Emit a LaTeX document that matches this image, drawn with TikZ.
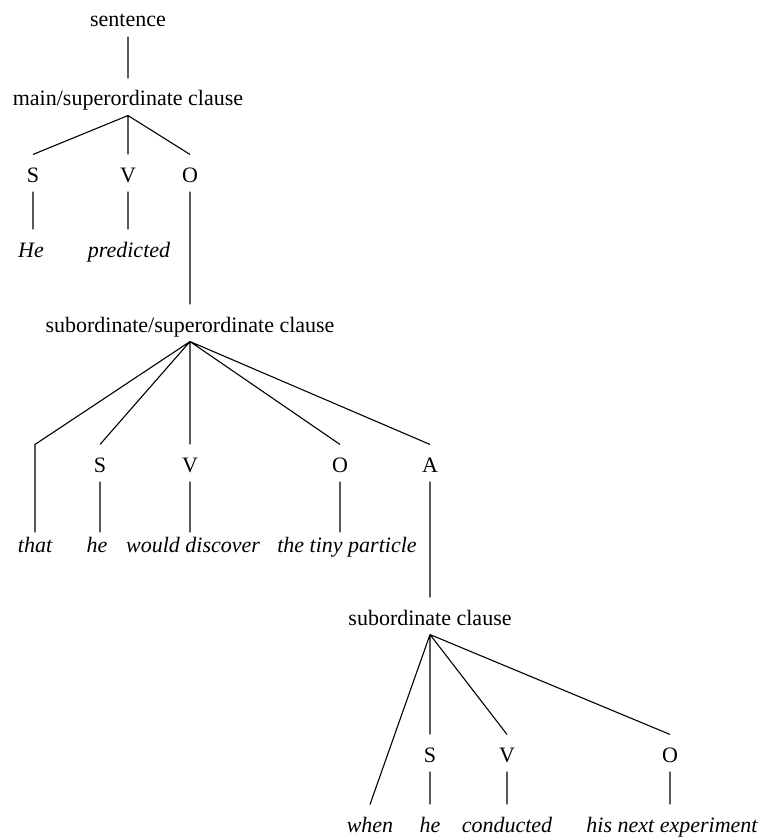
\documentclass[tikz,border=0pt]{standalone}
\usepackage{fontspec}
\setmainfont{Liberation Serif}
\def\sz{\fontsize{22}{26}\selectfont}
\tikzset{c/.style={anchor=base,inner xsep=2pt,inner ysep=4pt,text height=23pt,text depth=5pt,font=\sz},
  w/.style={c,font=\sz\itshape},
  ws/.style={w,text height=15pt}}

\begin{document}
\begin{tikzpicture}[x=1pt,y=-1pt,line width=1.1pt]
		\useasboundingbox (0,0) rectangle (763,840);
		
		% main clause
		\node[c] (sen)  at (128,27)  {sentence};
		\node[c] (main) at (128,106) {main/superordinate clause};
		\node[c] (s1)   at (33,182)  {S};
		\node[c] (v1)   at (128,182) {V};
		\node[c] (o1)   at (190,182) {O};
		\node[w] (he1)  at (31,257)  {He};
		\node[w] (pred) at (129,257) {predicted};
		
		% subordinate/superordinate clause
		\node[c] (sub)  at (190,332) {subordinate/superordinate clause};
		\node[c] (s2)   at (100,472) {S};
		\node[c] (v2)   at (190,472) {V};
		\node[c] (o2)   at (340,472) {O};
		\node[c] (a2)   at (430,472) {A};
		\node[ws] (that) at (35,552)  {that};
		\node[ws] (he2)  at (97,552)  {he};
		\node[ws] (disc) at (193,552) {would discover};
		\node[ws] (part) at (347,552) {the tiny particle};
		
		% subordinate clause
		\node[c] (subc) at (430,625) {subordinate clause};
		\node[c] (s3)   at (430,762) {S};
		\node[c] (v3)   at (507,762) {V};
		\node[c] (o3)   at (670,762) {O};
		\node[w] (when) at (370,832) {when};
		\node[w] (he3)  at (430,832) {he};
		\node[w] (cond) at (507,832) {conducted};
		\node[w] (exp)  at (672,832) {his next experiment};
		
		\draw (sen.south)--(main.north)
		(main.south)--(s1.north) (main.south)--(v1.north) (main.south)--(o1.north)
		(s1.south)--(s1.south |- he1.north)
		(v1.south)--(v1.south |- pred.north)
		(o1.south)--(sub.north);
		
		\draw (sub.south)--(that.north |- s2.north)--(that.north)
		(sub.south)--(s2.north) (sub.south)--(v2.north) (sub.south)--(o2.north) (sub.south)--(a2.north)
		(s2.south)--(s2.south |- he2.north)
		(v2.south)--(v2.south |- disc.north)
		(o2.south)--(o2.south |- part.north)
		(a2.south)--(subc.north);
		
		\draw (subc.south)--(when.north)
		(subc.south)--(s3.north) (subc.south)--(v3.north) (subc.south)--(o3.north)
		(s3.south)--(he3.north)
		(v3.south)--(cond.north)
		(o3.south)--(o3.south |- exp.north);
	\end{tikzpicture}
\end{document}
